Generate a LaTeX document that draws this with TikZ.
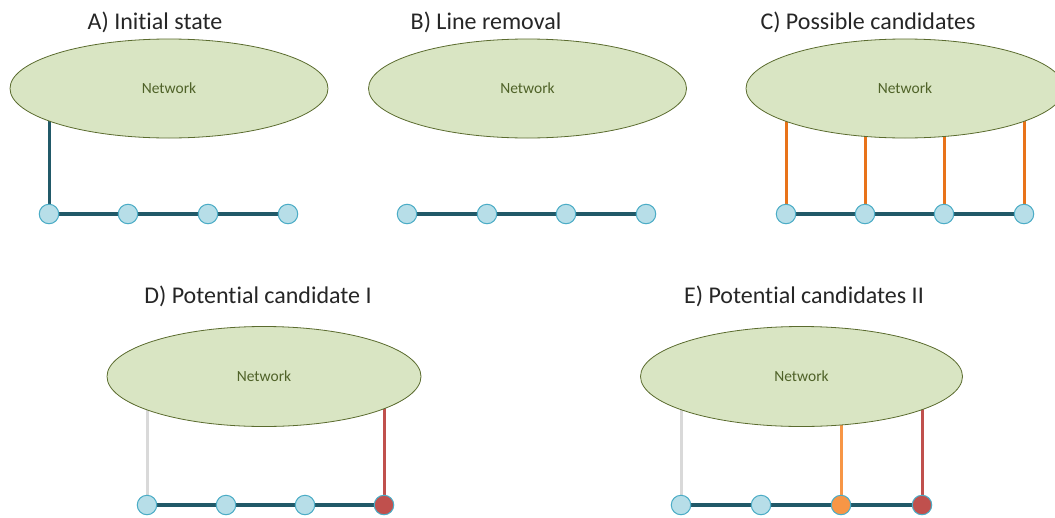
\documentclass[tikz,border=0pt]{standalone}
\usepackage{fontspec}
\setmainfont{Carlito}[Ligatures=CommonOff]
\usetikzlibrary{shapes.geometric}
\pgfdeclarelayer{background}
\pgfsetlayers{background,main}
\definecolor{netfill}{HTML}{D9E5C3}
\definecolor{netdraw}{HTML}{5A6B2E}
\definecolor{nettext}{HTML}{4F6228}
\definecolor{busfill}{HTML}{B7DEE8}
\definecolor{busdraw}{HTML}{4BACC6}
\definecolor{chain}{HTML}{215968}
\definecolor{candor}{HTML}{E8731A}
\definecolor{lightor}{HTML}{F79646}
\definecolor{chosen}{HTML}{C0504D}
\definecolor{unused}{HTML}{D9D9D9}
\definecolor{titlecol}{HTML}{262626}
\tikzset{
  network/.style={ellipse, draw=netdraw, fill=netfill, line width=0.8pt,
    minimum width=318pt, minimum height=99pt, inner sep=0pt,
    text=nettext, font=\fontsize{15.5}{18}\selectfont},
  bus/.style={circle, draw=busdraw, fill=busfill, line width=1pt,
    minimum size=19.5pt, inner sep=0pt},
  busred/.style={bus, fill=chosen},
  busorange/.style={bus, fill=lightor},
  paneltitle/.style={text=titlecol, font=\fontsize{24}{28}\selectfont, inner sep=0pt},
  chainline/.style={draw=chain, line width=3.2pt},
  feeder/.style={line width=3pt},
}
\begin{document}
\begin{tikzpicture}[x=1pt,y=-1pt]
\useasboundingbox (0,0) rectangle (1055,517);

% ---------- titles ----------
\node[paneltitle] (tA) at (155,22) {A) Initial state};
\node[paneltitle] (tB) at (486,22) {B) Line removal};
\node[paneltitle] (tC) at (868,22) {C) Possible candidates};
\node[paneltitle] (tD) at (258,296) {D) Potential candidate I};
\node[paneltitle] (tE) at (804,296) {E) Potential candidates II};

% ---------- networks ----------
\node[network] (netA) at (169,88.5) {Network};
\node[network] (netB) at (527.5,88.5) {Network};
\node[network] (netC) at (905,88.5) {Network};
\node[network, minimum width=314pt, minimum height=100pt] (netD) at (264,376.5) {Network};
\node[network, minimum width=322pt, minimum height=100pt] (netE) at (801.5,376.5) {Network};

% ---------- buses ----------
\foreach \i/\x in {1/49,2/128,3/208,4/288} \node[bus] (a\i) at (\x,214) {};
\foreach \i/\x in {1/407,2/487,3/566,4/646} \node[bus] (b\i) at (\x,214) {};
\foreach \i/\x in {1/786,2/865,3/944,4/1024} \node[bus] (c\i) at (\x,214) {};
\foreach \i/\x in {1/147,2/226,3/305} \node[bus] (d\i) at (\x,505) {};
\node[busred] (d4) at (384,505) {};
\foreach \i/\x in {1/681,2/761} \node[bus] (e\i) at (\x,505) {};
\node[busorange] (e3) at (841,505) {};
\node[busred] (e4) at (922,505) {};

\begin{pgfonlayer}{background}
  % feeder chains
  \draw[chainline] (a1) -- (a2) -- (a3) -- (a4);
  \draw[chainline] (b1) -- (b2) -- (b3) -- (b4);
  \draw[chainline] (c1) -- (c2) -- (c3) -- (c4);
  \draw[chainline] (d1) -- (d2) -- (d3) -- (d4);
  \draw[chainline] (e1) -- (e2) -- (e3) -- (e4);
  % connections to the network (hidden under the ellipse fill)
  \draw[feeder, draw=chain] (a1) -- (a1 |- netA.center);
  \foreach \i in {1,2,3,4}
    \draw[feeder, draw=candor] (c\i) -- (c\i |- netC.center);
  \draw[feeder, draw=unused] (d1) -- (d1 |- netD.center);
  \draw[feeder, draw=chosen] (d4) -- (d4 |- netD.center);
  \draw[feeder, draw=unused] (e1) -- (e1 |- netE.center);
  \draw[feeder, draw=lightor] (e3) -- (e3 |- netE.center);
  \draw[feeder, draw=chosen] (e4) -- (e4 |- netE.center);
\end{pgfonlayer}
\end{tikzpicture}
\end{document}
